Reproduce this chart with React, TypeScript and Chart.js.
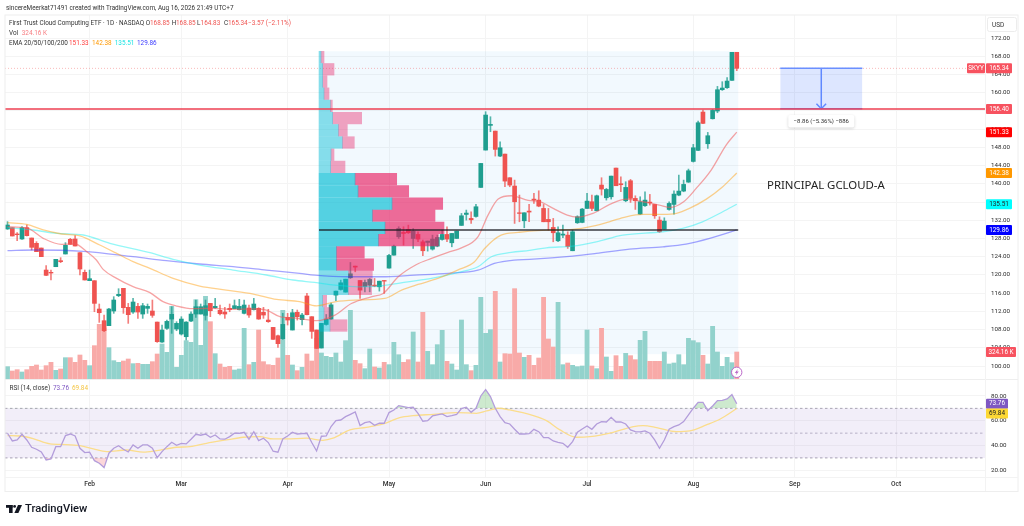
import React, { useEffect, useRef } from "react";
import { Chart, registerables } from "chart.js";
Chart.register(...registerables);

const opens = [130.08,130.37,128.98,127.88,130.37,128.1,126.93,125.9,121.07,120.56,121.8,123.12,124.59,127.81,127.88,124.88,120.56,118.73,118.73,112.51,109.95,108.85,112.07,115.44,117.05,112.88,111.85,113.09,111.41,112.66,112.07,109.65,105.26,108.26,110.31,108.12,107.02,106.43,109.87,111.41,111.41,111.12,113.75,112.8,112.22,111.85,112.66,112.58,112.36,111.56,112.73,112.36,112.66,111.78,110.09,108.48,106.65,106.0,110.68,107.9,111.78,110.17,115.37,110.83,107.9,103.95,109.12,110.29,115.56,116.8,116.22,119.37,121.93,118.78,117.46,117.76,117.76,117.39,118.78,121.49,124.34,128.37,129.32,129.98,128.0,128.88,127.27,127.13,125.66,126.32,127.78,128.88,127.05,128.0,130.86,133.27,132.4,132.83,139.2,147.4,152.82,151.57,146.08,146.52,141.33,139.5,133.64,131.88,134.01,136.64,136.42,134.59,132.18,130.42,127.49,128.73,128.73,125.3,131.44,131.52,134.59,136.06,134.08,139.72,136.93,137.15,143.45,140.01,136.28,140.67,136.79,133.35,135.18,135.98,135.47,132.03,130.05,134.37,135.47,137.52,138.4,140.37,144.91,147.33,155.75,148.79,154.28,155.97,160.65,161.09,162.7,168.85];
const highs = [131.69,130.37,129.27,130.59,130.96,128.1,127.3,125.9,122.03,121.07,123.42,123.78,127.08,128.03,128.61,124.88,121.07,121.07,118.73,113.61,111.19,112.66,115.22,116.97,117.05,113.75,114.85,113.75,113.75,113.61,114.49,109.65,109.0,110.09,113.02,109.73,110.83,109.73,111.92,114.49,113.61,114.49,113.75,114.85,113.39,112.88,113.61,114.49,114.63,114.49,113.39,114.85,112.8,112.88,112.44,108.48,106.8,111.56,111.56,112.44,112.29,111.56,115.95,110.83,107.9,109.36,111.31,113.8,116.44,118.85,119.07,122.73,121.93,118.78,118.85,119.22,119.22,118.63,118.78,124.49,126.54,130.57,130.57,130.93,130.2,129.47,127.64,127.42,128.73,128.73,129.83,130.57,129.1,129.61,133.49,134.23,133.86,135.47,144.47,155.82,154.72,151.57,149.23,146.52,141.33,140.81,137.52,133.64,135.47,137.89,138.47,135.47,134.59,132.4,130.57,130.93,129.47,129.83,132.98,134.59,137.89,137.52,137.52,141.33,138.98,141.69,143.45,141.55,140.45,140.96,137.37,137.15,138.25,137.67,135.47,132.76,132.54,136.06,138.47,141.91,140.81,143.23,148.65,153.77,156.19,151.28,156.33,161.38,162.41,163.29,168.85,168.85];
const lows = [130.0,128.54,127.52,127.81,128.54,125.47,125.1,124.0,119.83,118.88,121.8,122.68,124.59,126.71,126.34,119.98,118.88,118.73,111.92,109.58,107.53,108.85,111.56,115.22,111.56,109.36,111.56,110.46,110.46,111.56,110.68,105.19,105.19,108.04,107.17,107.75,106.8,105.7,109.73,110.68,111.41,110.09,110.83,112.66,111.19,110.46,111.92,112.58,112.29,111.41,110.68,112.29,110.24,110.46,109.58,105.85,104.09,105.85,109.0,107.9,110.09,109.0,111.19,106.07,103.87,103.95,108.97,110.29,114.32,116.66,116.22,119.22,120.68,114.83,116.29,116.29,117.39,116.44,115.93,121.49,124.34,128.0,126.54,129.1,125.81,127.27,124.2,125.22,125.44,126.17,127.64,127.27,126.17,128.0,130.86,132.03,131.3,132.69,139.2,147.4,151.43,146.08,145.94,139.35,139.35,131.3,131.66,130.35,131.66,135.69,134.96,131.66,129.83,127.27,127.27,128.15,125.81,125.3,131.3,131.44,134.59,134.08,134.08,137.52,136.42,136.64,139.57,138.25,136.06,135.91,134.37,133.27,135.03,135.32,132.4,129.32,130.05,134.23,133.35,137.37,138.25,140.3,144.77,147.26,153.18,147.77,154.21,155.6,160.5,160.94,162.7,164.83];
const closes = [130.96,128.54,128.83,130.37,128.61,126.05,125.1,124.0,119.9,120.41,123.42,122.9,126.49,126.71,126.34,121.29,118.88,119.17,113.75,111.7,107.75,112.51,114.49,115.73,112.8,111.27,114.05,111.85,113.24,113.09,111.12,105.34,107.9,109.8,111.34,109.36,110.31,109.65,111.41,113.02,113.02,113.24,112.14,113.09,111.48,111.41,112.36,113.24,113.09,113.39,111.19,113.61,110.31,111.19,109.73,105.85,104.9,109.14,110.09,111.7,110.83,111.19,111.27,107.6,103.87,109.36,110.29,113.43,116.44,118.27,119.07,120.24,121.71,116.66,118.34,119.0,117.53,118.63,118.63,124.27,126.32,130.2,129.1,129.25,129.61,127.86,125.3,127.42,127.86,128.22,128.88,127.86,129.1,129.61,132.98,133.57,132.1,134.96,144.47,155.09,153.04,147.55,147.91,140.59,139.72,136.06,133.49,133.64,133.79,136.42,135.1,131.66,131.66,129.25,129.25,128.96,126.25,129.47,132.76,134.45,136.2,134.59,137.37,138.84,138.76,141.69,139.57,139.79,139.2,136.79,136.28,136.06,136.42,135.84,132.98,129.47,131.81,135.69,137.74,138.4,139.86,142.86,147.91,153.4,153.26,150.55,156.11,160.65,161.02,162.55,168.85,165.34];
const volumesK = [148,96,112,84,112,152,168,108,160,200,104,120,256,256,200,288,224,160,400,656,612,376,220,200,216,240,184,188,176,176,208,300,420,320,872,140,284,460,440,952,404,992,688,304,180,140,152,108,120,608,172,200,588,208,172,164,252,824,284,168,100,140,300,216,488,312,272,260,312,204,460,824,224,184,124,360,144,132,200,172,440,292,200,232,564,204,800,332,172,412,584,212,180,108,708,172,100,164,980,548,592,1052,204,304,300,1084,312,260,284,164,252,980,480,384,920,172,192,164,148,156,588,156,124,608,264,92,280,152,308,280,232,464,572,212,212,212,324,180,192,292,172,488,460,436,284,180,632,324,152,260,196,324.16];

const ema20Idx = [0,4,7.4,11.2,14,16.4,18.4,19.8,22.6,26,29.5,32.2,35,38.4,42.6,46.7,50.9,53.6,56.4,59.8,64,67.8,71.2,75.3,77.8,80.9,84.7,87.8,91.2,94,97.4,99.5,101.6,104.3,107.8,110.2,113,115.9,118,121.2,124.7,128.1,131.6,135,137.2,140,142.6,145.7,148.8,151];
const ema20Val = [130.59,130.3,128.03,126.71,126.78,125.1,123.27,121.22,119.24,117.41,116.1,114.12,113.17,112.58,112.66,112.44,112.51,112.29,110.83,110.53,109.95,111.17,113.73,115.2,115.93,119.59,122.29,123.61,124.93,125.95,128.37,133.13,136.64,137.37,136.35,136.06,134.59,133.13,132.69,133.49,135.47,136.64,136.06,135.32,134.81,136.06,138.98,143.01,148.5,151.33];
const ema50Idx = [0,4,7.4,11.2,15,19.1,22.6,26,29.5,34.3,39.8,45.3,50.9,55.7,60.5,64,67.8,71.9,78.1,81.6,85,89.1,93.2,96.7,98.8,102.2,105.7,108.1,112.2,117,121.2,124.6,128.1,131.6,135.7,138.5,141.2,144.7,148.1,151];
const ema50Val = [131.47,131.1,129.86,128.98,128.54,126.56,124.73,122.9,121.44,119.24,117.56,116.68,115.8,114.63,114.12,113.2,114.1,114.46,114.83,116.66,117.9,119.22,121.05,122.88,125.81,128.73,129.32,129.62,129.83,129.98,130.71,131.66,132.76,133.27,133.27,133.49,134.59,136.64,139.35,142.38];
const ema100Idx = [0,5.3,10.2,15.7,21.2,29.5,34.3,39.8,46.7,53.6,59.1,63.6,67.8,72.6,77.4,82.9,87.8,93.4,97.4,100.2,104.3,108.1,111.6,117,121.9,127.4,135.7,139.8,143.9,148.1,151];
const ema100Val = [130.4,129.86,129.13,128.76,126.93,124.88,123.42,122.17,121.07,119.98,118.88,118.34,117.76,117.39,117.61,118.49,119.22,120.54,121.78,123.98,124.93,125.37,125.95,126.32,127.27,128.73,129.47,130.2,131.66,133.86,135.51];
const ema200Idx = [0,5.3,15.7,26,32.9,39.8,46.7,53.6,60.5,63.6,70.5,77.4,84.3,91.2,97.4,100.8,104.9,108.1,117,121.9,128.8,135.7,140.5,145.4,151];
const ema200Val = [125.32,125.47,125.17,124,123.12,122.39,121.8,121.07,120.34,119.95,119.59,119.59,119.95,120.32,121.05,122.51,123.24,123.39,124.12,124.71,125.66,126.17,126.76,128.0,129.86];

const rsiValues = [49.9,43.7,44.5,49.1,44.5,38.6,37.0,34.8,28.4,29.2,39.1,39.1,48.0,49.3,47.7,37.8,34.3,34.6,27.8,25.7,22.2,33.8,37.8,39.9,37.0,34.8,40.5,37.8,40.5,40.5,37.8,30.3,35.1,39.1,42.6,40.2,41.8,41.3,45.1,49.1,48.3,49.3,46.7,48.5,45.3,45.1,47.2,49.9,49.9,50.7,45.1,51.2,44.0,45.9,42.4,35.4,34.6,45.3,47.7,50.7,49.3,49.6,49.9,42.4,35.6,47.5,47.7,55.3,60.1,60.6,63.3,65.2,67.1,56.1,58.5,59.3,56.3,58.0,58.0,66.6,68.7,72.2,71.4,70.6,70.9,66.0,59.6,60.1,63.9,64.7,65.5,63.3,64.1,65.2,69.8,70.9,66.8,70.1,80.0,85.1,79.5,70.1,63.3,58.5,57.4,53.1,49.3,49.3,49.6,53.1,51.2,46.4,46.4,43.7,42.6,41.8,38.6,43.2,50.7,53.4,55.8,53.1,57.4,59.3,59.0,62.8,59.0,59.0,57.4,52.6,51.2,51.0,51.8,49.9,44.5,37.8,44.5,53.1,55.3,56.6,59.3,64.7,70.1,74.9,74.9,68.2,71.9,76.2,76.5,77.6,81.1,73.76];
const rsiMaIdx = [0,2.6,5.3,8.8,12.2,15,17.8,20.5,24.7,28.1,30.9,35,37.8,41.2,45.3,48.8,52.2,55,57.8,61.9,65.3,67.4,70.9,74.3,77.8,81.2,84,88.2,93,97.1,99.2,101.6,104,108.9,111.6,114.4,117.8,120.6,125.4,129.6,131.6,134.4,138.5,141.3,144.7,147.5,151];
const rsiMaVal = [48.0,47.7,45.6,41.3,40.8,39.9,37.3,35.1,36.4,34.6,35.9,38.6,39.1,41.8,44.5,46.7,47.2,45.3,45.3,45.9,44.2,45.9,52.6,54.7,57.4,62.5,64.1,65.2,66.6,66.0,67.9,70.1,68.7,64.1,60.1,52.6,46.7,47.2,50.7,55.3,56.1,54.5,51.2,51.8,56.6,61.2,69.84];

const profilePrices = [167.81,165.13,162.45,159.78,157.1,154.42,151.74,149.06,146.39,143.71,141.03,138.35,135.67,133.0,130.32,127.64,124.96,122.28,119.6,116.93,114.25,111.57,108.89];
const profileUp = [2,3.7,3.7,5,11.3,13.7,19.3,23.3,12,11.7,36,39,73,53.3,66,59.3,17.3,17.3,29.3,29.3,3.7,5,11];
const profileDown = [3,11.3,4.3,5,2,29,9,12,3,14.3,41.7,50.7,50.7,62.7,59,60,28,37.3,24,23.3,4,7,17];
const profileValueArea = [10,11,12,13,14,15,16,17];

const monthLabels = ["Feb","Mar","Apr","May","Jun","Jul","Aug","Sep","Oct"];
const monthIdx = [17,36,58,79,99,120,142,163,184];
const priceTicks = [100,104,108,112,116,120,124,128,132,136,140,144,148,152,156,160,164,168,172];
const rsiTicks = [20,40,60,80];

const supportLevel = 156.4;
const pocLevel = 129.86;
const lastPrice = 165.34;
const lastVolumeK = 324.16;
const measureTop = 165.34;
const measureBottom = 156.48;
const measureLeft = 160;
const measureRight = 177;
const measureMid = 168.5;
const profileStart = 64.5;
const profileEnd = 151.3;

const X_MIN = -0.5176;
const X_MAX = 202.4;
const F = 'Roboto, sans-serif';
const UP = "#1f9e8f";
const DOWN = "#ef5350";
const UP_V = "rgb(146,210,204)";
const DOWN_V = "rgb(248,170,168)";
const TAG_RED = "#f7525f";

const pairs = (xs: number[], ys: number[]) => xs.map((x, i) => ({ x, y: ys[i] }));
const flat = (y: number, a = X_MIN, b = X_MAX) => [{ x: a, y }, { x: b, y }];
const dirColor = (i: number, u: string, d: string) => (closes[i] >= opens[i] ? u : d);

const overlay = {
  id: "overlay",
  beforeDatasetsDraw(chart: any) {
    const { ctx, scales } = chart;
    const x = scales.x, y = scales.yPrice;
    const l = x.getPixelForValue(profileStart), r = x.getPixelForValue(profileEnd);
    const t = y.getPixelForValue(169.1), b = y.getPixelForValue(102.6);
    ctx.save();
    ctx.fillStyle = "rgba(33,150,243,0.06)";
    ctx.fillRect(l, t, r - l, b - t);
    ctx.restore();
  },
  afterDraw(chart: any) {
    const { ctx, scales } = chart;
    const yP = scales.yPrice, yR = scales.yRsi, yV = scales.yVol;
    const text = (s: string, x: number, y: number, color: string, font: string, align: CanvasTextAlign = "left") => {
      ctx.fillStyle = color; ctx.font = font; ctx.textAlign = align; ctx.textBaseline = "middle";
      ctx.fillText(s, x, y);
      return ctx.measureText(s).width;
    };
    ctx.save();
    // frame
    ctx.strokeStyle = "#eeeeee"; ctx.lineWidth = 1;
    ctx.strokeRect(5, 15, 1013, 476.5);
    ctx.beginPath(); ctx.moveTo(5, 379.5); ctx.lineTo(1018, 379.5); ctx.stroke();
    ctx.strokeStyle = "#f3f3f3";
    ctx.beginPath(); ctx.moveTo(985.5, 15); ctx.lineTo(985.5, 491); ctx.moveTo(5, 477.5); ctx.lineTo(1018, 477.5); ctx.stroke();

    const f7 = `6.4px ${F}`;
    text("sincereMeerkat71491 created with TradingView.com, Aug 16, 2026 21:49 UTC+7", 6, 8, "#333", f7);
    text("First Trust Cloud Computing ETF · 1D · NASDAQ", 9, 23, "#333", f7);
    const red = "#ef5350";
    const legend: [string, number, string][] = [
      ["O", 145.7, "#333"], ["168.85", 150, red], ["H", 171.7, "#333"], ["168.85", 176, red],
      ["L", 197, "#333"], ["164.83", 200.6, red], ["C", 224, "#333"], ["165.34", 228, red], ["−3.57 (−2.11%)", 248, red],
    ];
    legend.forEach(([s, x, c]) => text(s, x, 23, c, f7));
    text("Vol", 9, 33, "#333", f7);
    text("324.16 K", 21.7, 33, "#f77c80", f7);
    text("EMA 20/50/100/200", 9, 43, "#333", f7);
    text("151.33", 69, 43, "#ff3b3b", f7);
    text("142.38", 92, 43, "#ff9800", f7);
    text("135.51", 114.7, 43, "#19e3e3", f7);
    text("129.86", 137, 43, "#3b3bff", f7);
    text("RSI (14, close)", 9.5, 388, "#333", f7);
    text("73.76", 53, 388, "#7e57c2", f7);
    text("69.84", 72, 388, "#f5c542", f7);

    // USD box
    ctx.fillStyle = "#fff"; ctx.strokeStyle = "#ececec";
    ctx.beginPath(); ctx.roundRect(987.5, 17.5, 29, 14, 2); ctx.fill(); ctx.stroke();
    text("USD", 992, 25, "#333", f7);

    const tag = (v: number, scale: any, s: string, fill: string, color: string, x0 = 986, x1 = 1012, shift = 0) => {
      const y = scale.getPixelForValue(v) + shift;
      ctx.fillStyle = fill;
      ctx.beginPath(); ctx.roundRect(x0, y - 5, x1 - x0, 10, 1); ctx.fill();
      text(s, (x0 + x1) / 2, y, color, f7, "center");
    };
    tag(lastPrice, yP, "SKYY", TAG_RED, "#fff", 967, 985);
    tag(lastPrice, yP, "165.34", TAG_RED, "#fff");
    tag(supportLevel, yP, "156.40", TAG_RED, "#fff");
    tag(151.33, yP, "151.33", "#ff0000", "#fff");
    tag(142.38, yP, "142.38", "#ff9800", "#fff");
    tag(135.51, yP, "135.51", "#00ffff", "#222");
    tag(pocLevel, yP, "129.86", "#0000ff", "#fff");
    tag(lastVolumeK, yV, "324.16 K", TAG_RED, "#fff", 986, 1016);
    tag(73.76, yR, "73.76", "#7e57c2", "#fff", 986, 1008);
    tag(69.84, yR, "69.84", "#fdd835", "#222", 986, 1008, 5);

    // measure label
    const mx = scales.x.getPixelForValue(measureMid);
    ctx.shadowColor = "rgba(0,0,0,0.18)"; ctx.shadowBlur = 3; ctx.shadowOffsetY = 1;
    ctx.fillStyle = "#fff";
    ctx.beginPath(); ctx.roundRect(mx - 33, 115, 66, 12.5, 2); ctx.fill();
    ctx.shadowColor = "transparent"; ctx.shadowBlur = 0; ctx.shadowOffsetY = 0;
    text("−8.86 (−5.36%) −886", mx, 121.5, "#333", `6px ${F}`, "center");

    text("PRINCIPAL GCLOUD-A", 767, 186, "#222", `11.4px "Noto Sans", ${F}`);

    // bolt icon
    ctx.beginPath(); ctx.arc(736.7, 372.3, 5.2, 0, Math.PI * 2);
    ctx.fillStyle = "#fff"; ctx.fill(); ctx.strokeStyle = "#ba68c8"; ctx.lineWidth = 1; ctx.stroke();
    ctx.fillStyle = "#ba68c8";
    ctx.beginPath(); ctx.moveTo(737.8, 369); ctx.lineTo(734.8, 373); ctx.lineTo(736.6, 373); ctx.lineTo(735.7, 375.6); ctx.lineTo(738.8, 371.6); ctx.lineTo(737, 371.6); ctx.closePath(); ctx.fill();

    // logo
    ctx.fillStyle = "#131722";
    ctx.fillRect(6, 505, 6.6, 2.8); ctx.fillRect(9, 505, 3.6, 8);
    ctx.beginPath(); ctx.arc(14.6, 506.4, 1.4, 0, Math.PI * 2); ctx.fill();
    ctx.beginPath(); ctx.moveTo(18, 505); ctx.lineTo(22, 505); ctx.lineTo(18.4, 513); ctx.lineTo(14.4, 513); ctx.closePath(); ctx.fill();
    text("TradingView", 25, 509, "#131722", `500 11.2px ${F}`);
    ctx.restore();
  },
};

export default function App() {
  const ref = useRef<HTMLCanvasElement | null>(null);
  useEffect(() => {
    const bodyFloat = opens.map((o, i) => ({ x: i, y: [o, closes[i]] }));
    const wickFloat = lows.map((l, i) => ({ x: i, y: [l, highs[i]] }));
    const barOpts = { grouped: false, barPercentage: 1, categoryPercentage: 1, borderWidth: 0 };
    const lineOpts = { type: "line", pointRadius: 0, borderWidth: 1.3, fill: false };
    const vaColor = (strong: string, light: string) =>
      profilePrices.map((_, r) => (profileValueArea.includes(r) ? strong : light));

    const chart = new Chart(ref.current as HTMLCanvasElement, {
      type: "bar",
      data: {
        datasets: [
          { ...lineOpts, label: "Support", data: flat(supportLevel), yAxisID: "yPrice", xAxisID: "x", borderColor: "#ee3f52", borderWidth: 1.5, order: 1 },
          { ...lineOpts, label: "POC", data: flat(pocLevel, profileStart, profileEnd), yAxisID: "yPrice", xAxisID: "x", borderColor: "rgba(25,25,30,0.85)", borderWidth: 1.5, order: 1 },
          { ...lineOpts, label: "Last", data: flat(lastPrice), yAxisID: "yPrice", xAxisID: "x", borderColor: "rgba(239,83,80,0.4)", borderWidth: 1, borderDash: [1, 2], order: 9 },
          { ...lineOpts, label: "Measure top", data: flat(measureTop, measureLeft, measureRight), yAxisID: "yPrice", xAxisID: "x", borderColor: "#6a8fff", borderWidth: 1.5, fill: "+1", backgroundColor: "rgba(41,98,255,0.16)", order: 2 },
          { ...lineOpts, label: "Measure bottom", data: flat(measureBottom, measureLeft, measureRight), yAxisID: "yPrice", xAxisID: "x", borderColor: "#6a8fff", borderWidth: 1.5, order: 2 },
          { ...lineOpts, label: "Measure arrow", data: [{ x: measureMid, y: measureTop }, { x: measureMid, y: measureBottom }], yAxisID: "yPrice", xAxisID: "x", borderColor: "#6a8fff", borderWidth: 1.5, order: 2 },
          { ...lineOpts, label: "Measure head", data: [{ x: measureMid - 1, y: measureBottom + 1.1 }, { x: measureMid, y: measureBottom }, { x: measureMid + 1, y: measureBottom + 1.1 }], yAxisID: "yPrice", xAxisID: "x", borderColor: "#6a8fff", borderWidth: 1.5, order: 2 },

          { ...lineOpts, label: "EMA 20", data: pairs(ema20Idx, ema20Val), yAxisID: "yPrice", xAxisID: "x", borderColor: "rgba(240,90,90,0.55)", cubicInterpolationMode: "monotone", order: 3 },
          { ...lineOpts, label: "EMA 50", data: pairs(ema50Idx, ema50Val), yAxisID: "yPrice", xAxisID: "x", borderColor: "rgba(255,152,0,0.45)", cubicInterpolationMode: "monotone", order: 3 },
          { ...lineOpts, label: "EMA 100", data: pairs(ema100Idx, ema100Val), yAxisID: "yPrice", xAxisID: "x", borderColor: "rgba(0,235,235,0.42)", cubicInterpolationMode: "monotone", order: 3 },
          { ...lineOpts, label: "EMA 200", data: pairs(ema200Idx, ema200Val), yAxisID: "yPrice", xAxisID: "x", borderColor: "rgba(40,40,255,0.42)", cubicInterpolationMode: "monotone", order: 3 },

          { ...barOpts, label: "Profile up", indexAxis: "y", maxBarThickness: 11.6, xAxisID: "xProfile", yAxisID: "yProfile", data: profilePrices.map((y, r) => ({ y, x: [0, profileUp[r]] })), backgroundColor: vaColor("rgba(0,188,212,0.65)", "rgba(0,188,212,0.45)"), order: 4 },
          { ...barOpts, label: "Profile down", indexAxis: "y", maxBarThickness: 11.6, xAxisID: "xProfile", yAxisID: "yProfile", data: profilePrices.map((y, r) => ({ y, x: [profileUp[r], profileUp[r] + profileDown[r]] })), backgroundColor: vaColor("rgba(233,30,99,0.65)", "rgba(233,30,99,0.4)"), order: 4 },

          { ...barOpts, label: "Body", data: bodyFloat, xAxisID: "x", yAxisID: "yPrice", maxBarThickness: 4, backgroundColor: opens.map((_, i) => dirColor(i, UP, DOWN)), order: 5 },
          { ...barOpts, label: "Wick", data: wickFloat, xAxisID: "x", yAxisID: "yPrice", maxBarThickness: 1, backgroundColor: opens.map((_, i) => dirColor(i, "rgba(31,158,143,0.75)", "rgba(239,83,80,0.75)")), order: 6 },
          { ...barOpts, label: "Volume", data: volumesK.map((y, x) => ({ x, y })), xAxisID: "x", yAxisID: "yVol", maxBarThickness: 4.2, backgroundColor: opens.map((_, i) => dirColor(i, UP_V, DOWN_V)), order: 8 },

          { ...lineOpts, label: "RSI top", data: flat(70), yAxisID: "yRsi", xAxisID: "x", borderColor: "#a9a5b2", borderWidth: 1, borderDash: [2.5, 2.5], fill: "+1", backgroundColor: "rgba(126,87,194,0.1)", order: 12 },
          { ...lineOpts, label: "RSI bottom", data: flat(30), yAxisID: "yRsi", xAxisID: "x", borderColor: "#a9a5b2", borderWidth: 1, borderDash: [2.5, 2.5], order: 12 },
          { ...lineOpts, label: "RSI mid", data: flat(50), yAxisID: "yRsi", xAxisID: "x", borderColor: "#bdb9c6", borderWidth: 1, borderDash: [2.5, 2.5], order: 12 },
          { ...lineOpts, label: "RSI MA", data: pairs(rsiMaIdx, rsiMaVal), yAxisID: "yRsi", xAxisID: "x", borderColor: "#fbdd8c", cubicInterpolationMode: "monotone", order: 11 },
          { ...lineOpts, label: "RSI", data: rsiValues.map((y, x) => ({ x, y })), yAxisID: "yRsi", xAxisID: "x", borderColor: "#b39ddb", fill: { target: { value: 70 }, above: "rgba(76,175,80,0.28)", below: "transparent" }, order: 10 },
          { ...lineOpts, label: "RSI oversold", data: rsiValues.map((y, x) => ({ x, y })), yAxisID: "yRsi", xAxisID: "x", borderColor: "transparent", fill: { target: { value: 30 }, above: "transparent", below: "rgba(242,54,69,0.2)" }, order: 10 },
        ] as any,
      },
      options: {
        animation: false,
        responsive: false,
        devicePixelRatio: 1,
        events: [],
        layout: { padding: { left: 5, top: 15, right: 6, bottom: 35 } },
        plugins: { legend: { display: false }, title: { display: false }, tooltip: { enabled: false } },
        scales: {
          x: {
            type: "linear", position: "bottom", min: X_MIN, max: X_MAX, offset: false,
            afterBuildTicks: (s: any) => { s.ticks = monthIdx.map((value) => ({ value })); },
            afterFit: (s: any) => { s.height = 14; },
            grid: { color: "#f4f4f4", drawTicks: false, offset: false },
            border: { display: false },
            ticks: {
              autoSkip: false, maxRotation: 0, padding: 3, color: "#333",
              font: { family: F, size: 6.6, weight: "500" },
              callback: (v: any) => monthLabels[monthIdx.indexOf(Number(v))] ?? "",
            },
          },
          xProfile: { type: "linear", axis: "x", position: "bottom", display: false, min: -314, max: 666, offset: false, grid: { offset: false } },
          yPrice: {
            type: "linear", position: "right", stack: "panes", stackWeight: 364, min: 97.15, max: 177.05, offset: false,
            afterBuildTicks: (s: any) => { s.ticks = priceTicks.map((value) => ({ value })); },
            afterFit: (s: any) => { s.width = 33; },
            grid: { color: "#f4f4f4", drawTicks: false },
            border: { display: false },
            ticks: { autoSkip: false, padding: 6, color: "#2a2a2a", font: { family: F, size: 6.2 }, callback: (v: any) => Number(v).toFixed(2) },
          },
          yRsi: {
            type: "linear", position: "right", stack: "panes", stackWeight: 98, min: 14.6, max: 93.7, offset: false,
            afterBuildTicks: (s: any) => { s.ticks = rsiTicks.map((value) => ({ value })); },
            afterFit: (s: any) => { s.width = 33; },
            grid: { color: "#f4f4f4", drawTicks: false },
            border: { display: false },
            ticks: { autoSkip: false, padding: 6, color: "#2a2a2a", font: { family: F, size: 6.2 }, callback: (v: any) => Number(v).toFixed(2) },
          },
          yVol: { type: "linear", position: "right", display: false, min: -1176, max: 4368, offset: false },
          yProfile: { type: "linear", position: "right", display: false, min: 75.64, max: 177.05, offset: false, grid: { offset: false } },
        },
      } as any,
      plugins: [overlay],
    } as any);
    return () => chart.destroy();
  }, []);
  return (
    <div style={{ position: "fixed", left: 0, top: 0, width: 1024, height: 526, background: "#fff" }}>
      <canvas ref={ref} width={1024} height={526} style={{ display: "block", width: 1024, height: 526 }} />
    </div>
  );
}
